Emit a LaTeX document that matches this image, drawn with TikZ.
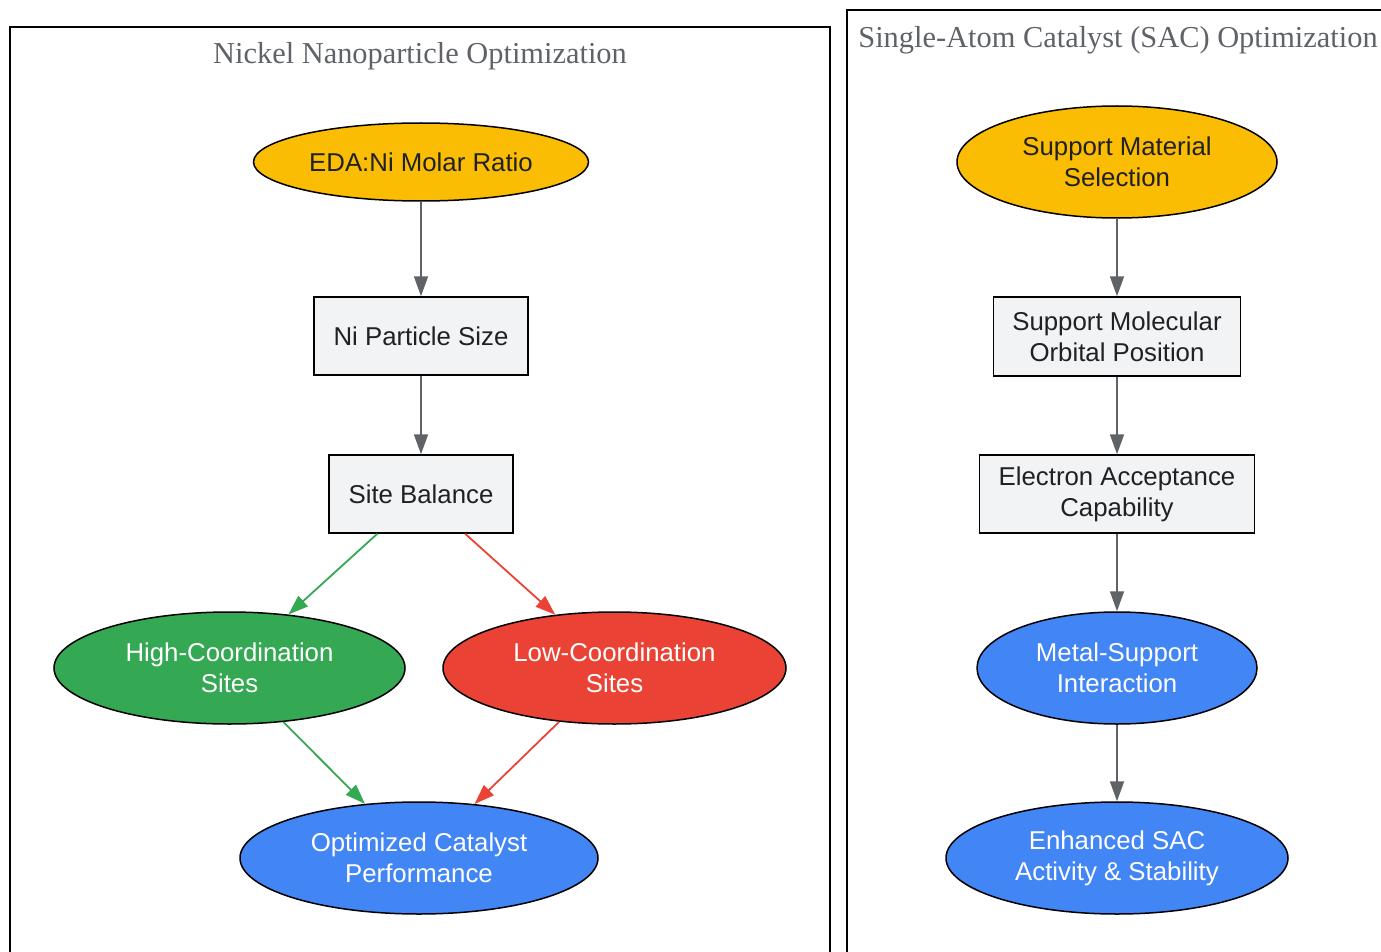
\documentclass[tikz,border=0pt]{standalone}
\usepackage{fontspec}
\setmainfont{Liberation Serif}
\setsansfont{Liberation Sans}
\usetikzlibrary{shapes.geometric,arrows.meta}

\definecolor{sunflower}{HTML}{FBBC04}
\definecolor{leafgreen}{HTML}{34A853}
\definecolor{tomato}{HTML}{EA4335}
\definecolor{skyblue}{HTML}{4285F4}
\definecolor{paper}{HTML}{F1F3F4}
\definecolor{slate}{HTML}{5F6368}
\definecolor{ink}{HTML}{202124}

\tikzset{
  oval/.style={ellipse, draw=black, line width=1.5pt, inner sep=0pt, align=center,
    font=\sffamily\fontsize{25.8}{31}\selectfont},
  plainbox/.style={rectangle, draw=black, line width=1.5pt, fill=paper, text=ink,
    inner sep=0pt, align=center, font=\sffamily\fontsize{25.8}{31}\selectfont},
  flow/.style={draw=slate, line width=1.8pt, -{Triangle[length=20pt,width=14pt]}},
  cluster/.style={draw=black, line width=1.8pt},
  clustertitle/.style={text=slate, font=\fontsize{30.4}{36}\selectfont}
}

\begin{document}
\begin{tikzpicture}[x=1pt,y=1pt,yscale=-1]
\useasboundingbox (0,0) rectangle (1381,952);

%Shape: Rectangle [cluster left]
\draw [cluster] (10,27) rectangle (830,970);
%Shape: Rectangle [cluster right]
\draw [cluster] (847,10) rectangle (1400,970);

% Text Node
\node [clustertitle] (nititle) at (420,56) {Nickel Nanoparticle Optimization};
% Text Node
\node [clustertitle] (sactitle) at (1118,40) {Single-Atom Catalyst (SAC) Optimization};

%Shape: Ellipse [EDA ratio]
\node [oval, fill=sunflower, text=ink, minimum width=335, minimum height=78] (ratio) at (421,162) {EDA:Ni Molar Ratio};
%Shape: Rectangle [particle size]
\node [plainbox, minimum width=214, minimum height=78] (size) at (421,336) {Ni Particle Size};
%Shape: Rectangle [site balance]
\node [plainbox, minimum width=184, minimum height=78] (balance) at (421,494) {Site Balance};
%Shape: Ellipse [high coordination]
\node [oval, fill=leafgreen, text=white, minimum width=351, minimum height=112] (high) at (229.5,668) {High-Coordination\\Sites};
%Shape: Ellipse [low coordination]
\node [oval, fill=tomato, text=white, minimum width=343, minimum height=112] (low) at (614.5,668) {Low-Coordination\\Sites};
%Shape: Ellipse [performance]
\node [oval, fill=skyblue, text=white, minimum width=358, minimum height=112] (perf) at (419,858) {Optimized Catalyst\\Performance};

%Shape: Ellipse [support]
\node [oval, fill=sunflower, text=ink, minimum width=320, minimum height=112] (support) at (1117,162) {Support Material\\Selection};
%Shape: Rectangle [orbital]
\node [plainbox, minimum width=247, minimum height=79] (orbital) at (1117,336.5) {Support Molecular\\Orbital Position};
%Shape: Rectangle [acceptance]
\node [plainbox, minimum width=275, minimum height=78] (accept) at (1117,494) {Electron Acceptance\\Capability};
%Shape: Ellipse [interaction]
\node [oval, fill=skyblue, text=white, minimum width=280, minimum height=112] (interact) at (1117,668) {Metal-Support\\Interaction};
%Shape: Ellipse [enhanced]
\node [oval, fill=skyblue, text=white, minimum width=342, minimum height=112] (enhanced) at (1117,858) {Enhanced SAC\\Activity \& Stability};

%Straight Lines
\draw [flow] (ratio) -- (size);
\draw [flow] (size) -- (balance);
\draw [flow, draw=leafgreen, fill=leafgreen] (balance) -- (high);
\draw [flow, draw=tomato, fill=tomato] (balance) -- (low);
\draw [flow, draw=leafgreen, fill=leafgreen] (high) -- (perf);
\draw [flow, draw=tomato, fill=tomato] (low) -- (perf);

\draw [flow] (support) -- (orbital);
\draw [flow] (orbital) -- (accept);
\draw [flow] (accept) -- (interact);
\draw [flow] (interact) -- (enhanced);

\end{tikzpicture}
\end{document}
